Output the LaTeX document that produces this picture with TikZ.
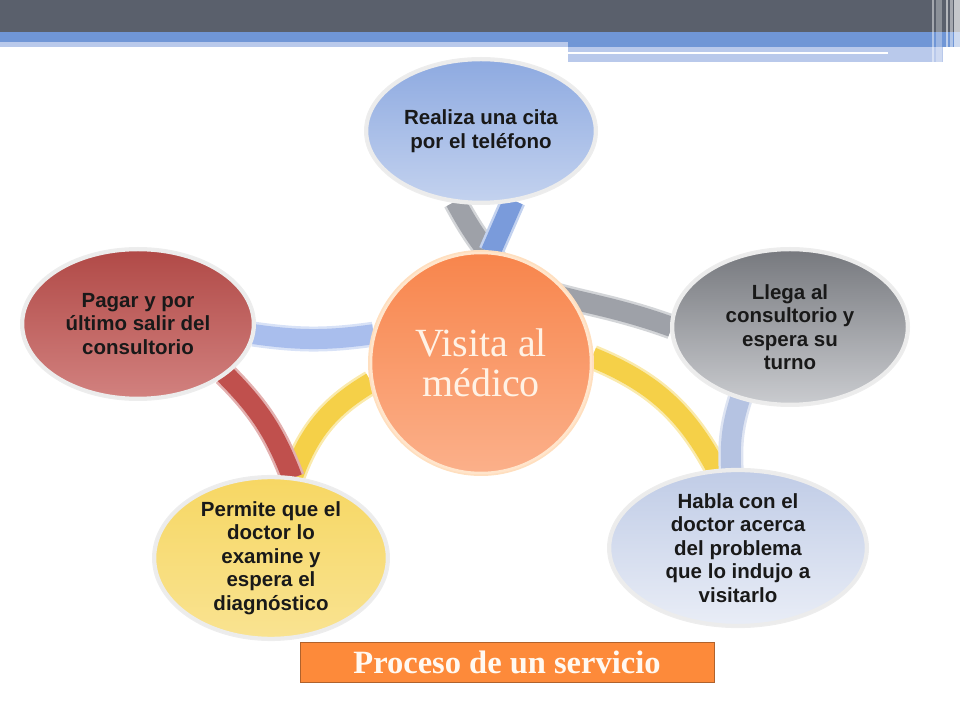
\documentclass[tikz,border=0pt]{standalone}
\usepackage{fontspec}
\setmainfont{Liberation Serif}
\setsansfont{Liberation Sans}
\usetikzlibrary{shapes.geometric, backgrounds, positioning}

\definecolor{hdark}{HTML}{5A606C}
\definecolor{hblue}{HTML}{7096D6}
\definecolor{hlight}{HTML}{B9C9EB}
\definecolor{bblue}{HTML}{7A9BDB}
\definecolor{bgray}{HTML}{9EA1A8}
\definecolor{blight}{HTML}{A9BEED}
\definecolor{bred}{HTML}{C0504D}
\definecolor{byellow}{HTML}{F5D048}
\definecolor{bsteel}{HTML}{B5C3E2}
\definecolor{midtop}{HTML}{F8854C}
\definecolor{midbot}{HTML}{FBB08A}
\definecolor{tbox}{HTML}{FD8A3A}
\definecolor{tline}{HTML}{B0622C}

\begin{document}
\begin{tikzpicture}[
  x = 1pt, y = 1pt,             % one unit = one pixel
  B1/.style = {                 % band between two bubbles
    draw = #1!45!white,
    double = #1,
    double distance = 20pt,
    line width = 2.5pt
    }
  ]

  \tikzstyle{E1}=[      % style for the bubbles
  ellipse,
  inner sep = 0pt,
  draw = white!85!gray,
  line width = 2.5pt,
  preaction = {draw = black!7, line width = 6pt},
  align = center,
  text = black!90,
  font = \sffamily\bfseries\fontsize{20.5}{23.5}\selectfont
  ]

  \tikzstyle{C1}=[      % style for the middle circle
  circle,
  inner sep = 0pt,
  minimum size = 220pt,
  draw = white!80!orange,
  line width = 2.5pt,
  preaction = {draw = orange!25, line width = 6pt},
  align = center,
  text = white!90!orange,
  font = \fontsize{40}{40}\selectfont
  ]

  \useasboundingbox (0,0) rectangle (960,720);

  % header bars
  \fill[hdark] (0,688) rectangle (960,720);
  \fill[hblue] (0,678) rectangle (960,688);
  \fill[hlight] (0,673) rectangle (568,678);
  \fill[hblue] (568,673) rectangle (960,678);
  \fill[hlight] (568,658) rectangle (943,673);
  \fill[white] (568,666) rectangle (888,668);
  \foreach \x/\w/\o in {932/2/0.45, 936/6/0.3, 946/1.5/0.55, 950/3/0.45, 954/6/0.65}
    \fill[white, opacity=\o] (\x,658) rectangle ++(\w,62);

  % the bubbles
  \node[C1, top color=midtop, bottom color=midbot] (mid) at (481,357) {Visita al\\médico};
  \node[E1, minimum width=228pt, minimum height=142pt,
        top color=bblue!85, bottom color=bblue!45!white] (cita) at (481,589) {Realiza una cita\\por el teléfono};
  \node[E1, minimum width=234pt, minimum height=154pt,
        top color=bgray!75!black, bottom color=bgray!55!white] (llega) at (790,393) {Llega al\\consultorio y\\espera su\\turno};
  \node[E1, minimum width=256pt, minimum height=148pt,
        top color=bsteel!85, bottom color=bsteel!30!white] (habla) at (738,172) {Habla con el\\doctor acerca\\del problema\\que lo indujo a\\visitarlo};
  \node[E1, minimum width=232pt, minimum height=160pt,
        top color=byellow!85!white, bottom color=byellow!60!white] (examen) at (271,162) {Permite que el\\doctor lo\\examine y\\espera el\\diagnóstico};
  \node[E1, minimum width=230pt, minimum height=148pt,
        top color=bred!92!black, bottom color=bred!72!white] (pago) at (138,396) {Pagar y por\\último salir del\\consultorio};

  % caption
  \node[draw=tline, fill=tbox, line width=1pt, minimum width=414pt, minimum height=40pt,
        text=white!95!orange, font=\bfseries\fontsize{32.5}{32.5}\selectfont] (titulo) at (507,58) {Proceso de un servicio};

  % bands behind the bubbles
  \begin{pgfonlayer}{background}
  \path (cita.250) edge[B1=bgray, out=-62, in=160, looseness=1.3] (llega.180);
  \path (cita.295) edge[B1=bblue] (mid.85);
  \path (pago.-5) edge[B1=blight, bend right=8] (mid.165);
  \path (mid.190) edge[B1=byellow, bend right=20] (examen.75);
  \path (pago.-30) edge[B1=bred, bend left=12] (examen.75);
  \path (mid.3) edge[B1=byellow, bend left=20] (habla.105);
  \path (llega.235) edge[B1=bsteel, bend right=10] (habla.95);
  \end{pgfonlayer}
\end{tikzpicture}
\end{document}
